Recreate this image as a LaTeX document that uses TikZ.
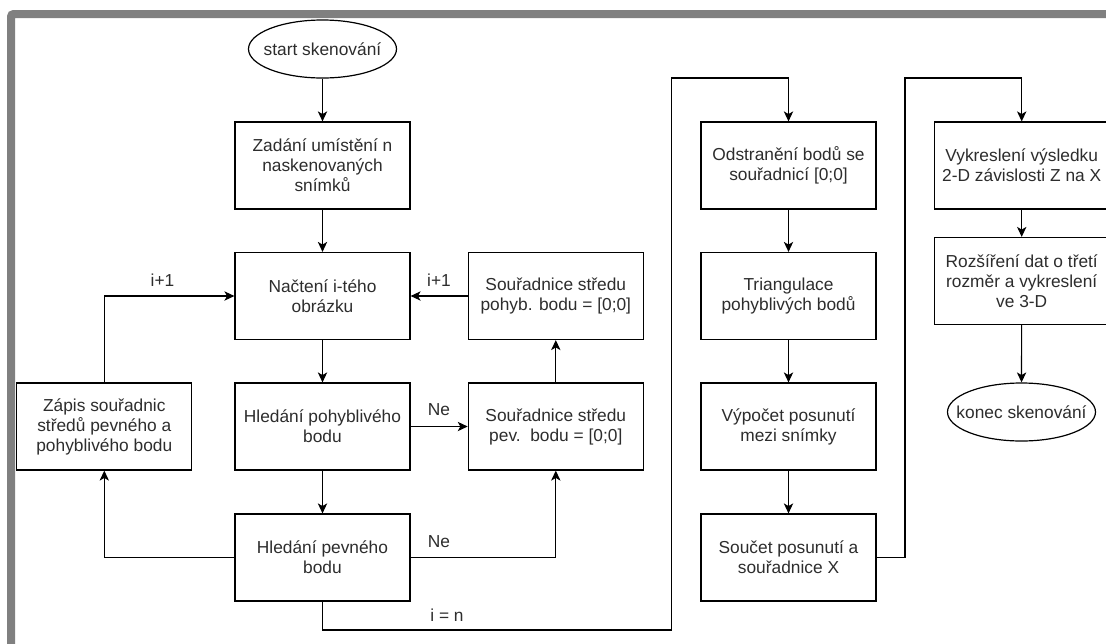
\documentclass[tikz,border=0pt]{standalone}
\usepackage{fontspec}
\setmainfont{Liberation Sans}
\usetikzlibrary{shapes.geometric,arrows.meta}
\definecolor{txt}{RGB}{45,45,45}
\definecolor{framegray}{RGB}{128,128,128}
\begin{document}
\begin{tikzpicture}[x=0.75pt,y=-0.75pt,
  every node/.style={font=\fontsize{13}{15}\selectfont, text=txt},
  box/.style={draw=black, line width=0.9pt, fill=white, minimum width=131.25pt, minimum height=65.25pt, inner sep=0pt, align=center},
  term/.style={ellipse, draw=black, line width=0.9pt, fill=white, minimum width=111pt, minimum height=43.5pt, inner sep=0pt},
  lbl/.style={inner sep=0pt},
  conn/.style={draw=black, line width=0.9pt, -{Stealth[length=7.5pt,width=7pt,inset=2pt]}}
]
\useasboundingbox (0,0) rectangle (1106,643);
\clip (0,0) rectangle (1106,643);
\fill[white] (0,0) rectangle (1106,643);
\draw[framegray, line width=6pt, rounded corners=2pt] (11,700) -- (11,14) -- (1150,14);

% left column
\node[term] (start) at (322.5,49) {\makebox[60pt][c]{start skenování}};
\node[box] (zadani) at (322.5,165.5) {Zadání umístění n\\naskenovaných\\snímků};
\node[box] (nacteni) at (322.5,296) {Načtení i-tého\\obrázku};
\node[box] (hledpoh) at (322.5,426.5) {Hledání pohyblivého\\bodu};
\node[box] (hledpev) at (322.5,557.5) {Hledání pevného\\bodu};
\node[box] (zapis) at (104.3,426.5) {Zápis souřadnic\\středů pevného a\\pohyblivého bodu};
\node[box] (sourpoh) at (555.8,296) {Souřadnice středu\\pohyb. bodu = [0;0]};
\node[box] (sourpev) at (555.8,426.5) {Souřadnice středu\\pev.\ \ bodu = [0;0]};

% middle column
\node[box] (odstr) at (788.5,165.5) {Odstranění bodů se\\souřadnicí [0;0]};
\node[box] (triang) at (788.5,296) {Triangulace\\pohyblivých bodů};
\node[box] (vypocet) at (788.5,426.5) {Výpočet posunutí\\mezi snímky};
\node[box] (soucet) at (788.5,557.5) {Součet posunutí a\\souřadnice X};

% right column
\node[box] (vykres) at (1021.7,165.5) {Vykreslení výsledku\\2-D závislosti Z na X};
\node[box] (rozsir) at (1021.7,281) {Rozšíření dat o třetí\\rozměr a vykreslení\\ve 3-D};
\node[term] (konec) at (1021.5,412) {\makebox[60pt][c]{konec skenování}};

% bend points
\coordinate (b1) at (322.5,630);
\coordinate (b2) at (671.5,630);
\coordinate (b3) at (671.5,78);
\coordinate (c1) at (905,557.5);
\coordinate (c2) at (905,78);

% connectors
\draw[conn] (start) -- (zadani);
\draw[conn] (zadani) -- (nacteni);
\draw[conn] (nacteni) -- (hledpoh);
\draw[conn] (hledpoh) -- (hledpev);
\draw[conn] (hledpoh) -- (sourpev);
\draw[conn] (hledpev.east) -| (sourpev.south);
\draw[conn] (sourpev) -- (sourpoh);
\draw[conn] (sourpoh) -- (nacteni);
\draw[conn] (hledpev.west) -| (zapis.south);
\draw[conn] (zapis.north) |- (nacteni.west);
\draw[conn] (hledpev.south) -- (b1) -- (b2) -- (b3) -| (odstr.north);
\draw[conn] (odstr) -- (triang);
\draw[conn] (triang) -- (vypocet);
\draw[conn] (vypocet) -- (soucet);
\draw[conn] (soucet.east) -- (c1) -- (c2) -| (vykres.north);
\draw[conn] (vykres) -- (rozsir);
\draw[conn] (rozsir) -- (konec);

% labels
\node[lbl] (l1) at (162.5,280) {i+1};
\node[lbl] (l2) at (439,280) {i+1};
\node[lbl] (l3) at (439,410) {Ne};
\node[lbl] (l4) at (439,542) {Ne};
\node[lbl] (l5) at (447,615) {i = n};
\end{tikzpicture}
\end{document}
